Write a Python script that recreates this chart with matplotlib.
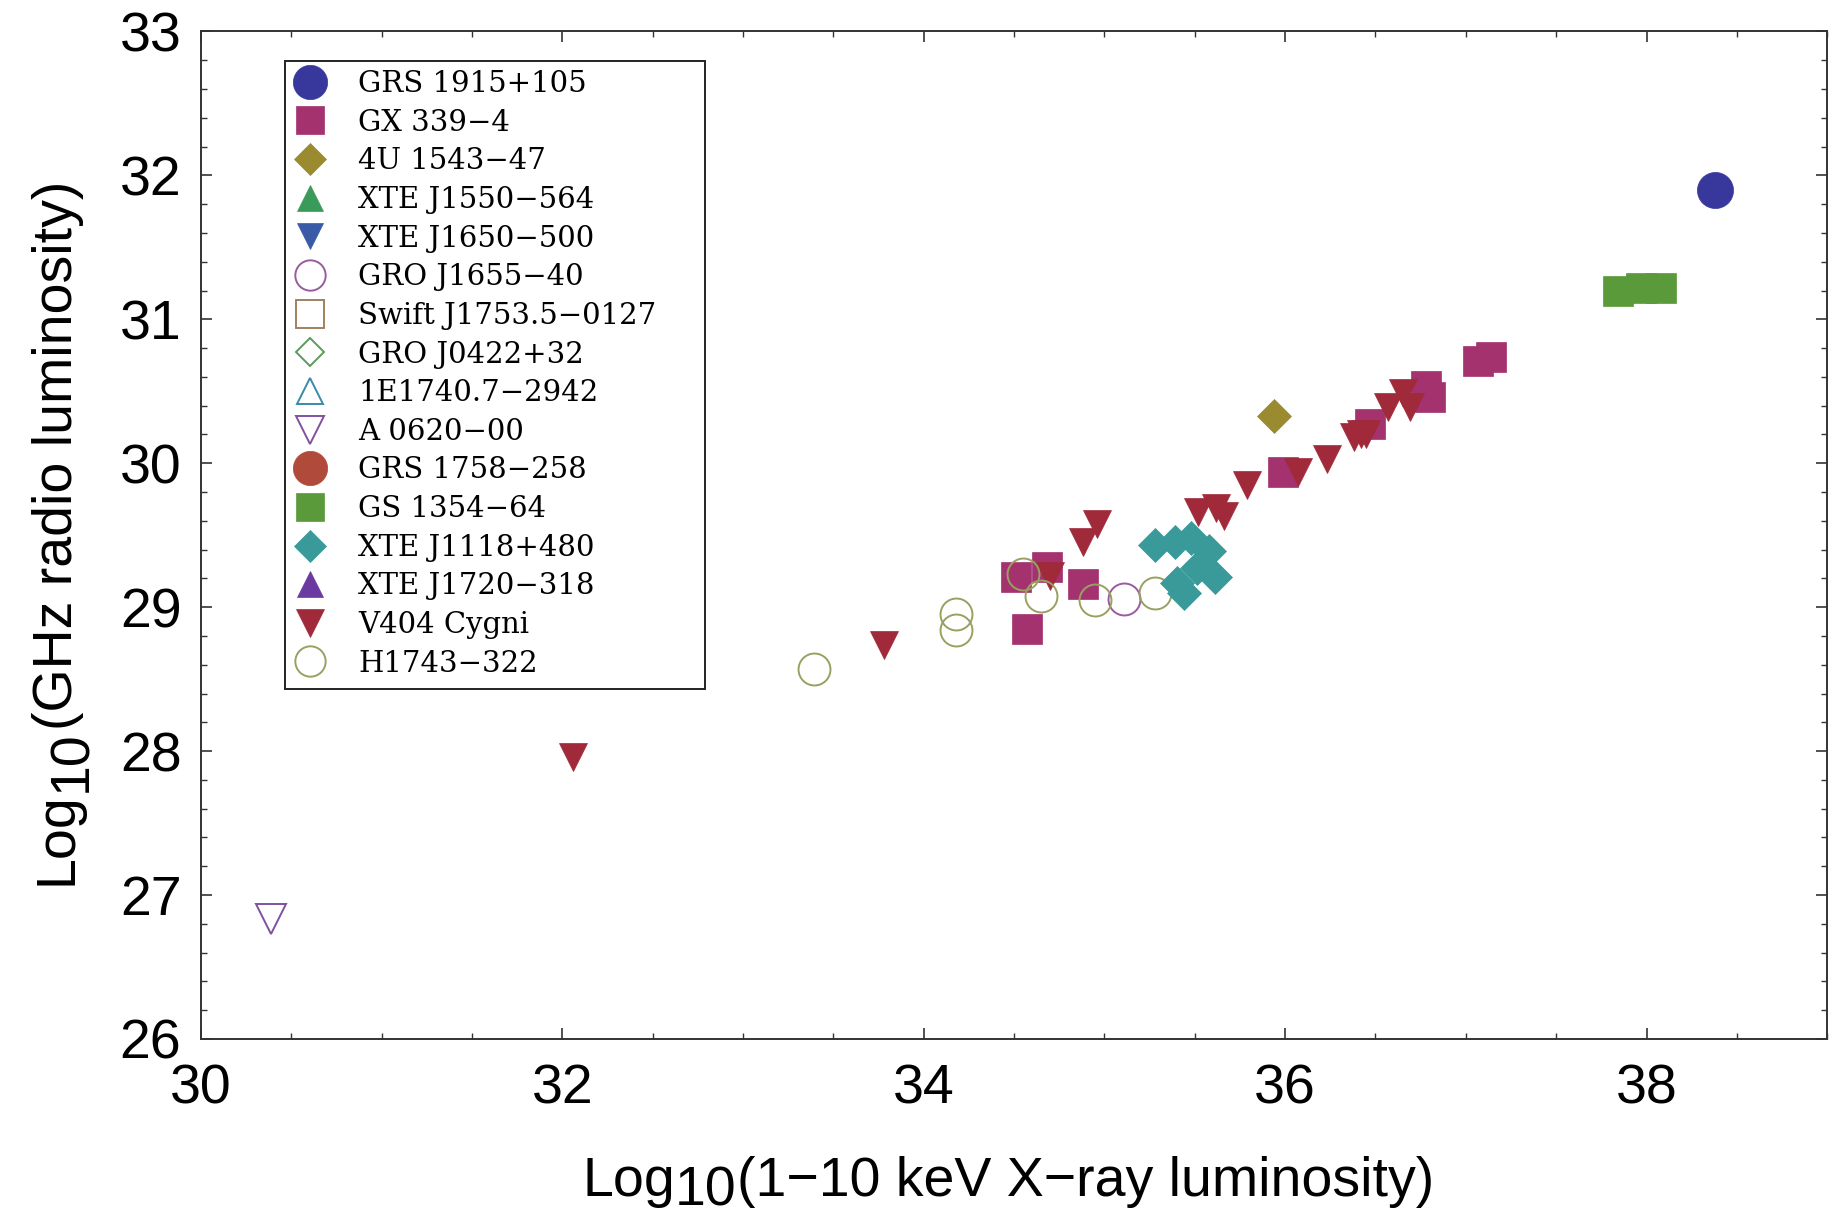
import matplotlib
matplotlib.use("Agg")
import matplotlib.pyplot as plt
from matplotlib.ticker import MultipleLocator
from matplotlib.patches import Rectangle
from matplotlib.transforms import IdentityTransform

# ---------------- data ----------------
grs1915_x = [38.38]
grs1915_y = [31.90]

gx339_x = [34.51, 34.68, 34.88, 34.57, 35.99, 36.47, 36.78, 36.80, 37.07, 37.14]
gx339_y = [29.21, 29.28, 29.16, 28.85, 29.94, 30.27, 30.54, 30.46, 30.71, 30.74]

u1543_x = [35.94]
u1543_y = [30.33]

j1550_x, j1550_y = [], []
j1650_x, j1650_y = [], []

j1655_x = [35.11]
j1655_y = [29.06]

swift_x, swift_y = [], []
j0422_x, j0422_y = [], []
e1740_x, e1740_y = [], []

a0620_x = [30.39]
a0620_y = [26.83]

grs1758_x, grs1758_y = [], []

gs1354_x = [37.84, 37.97, 38.08]
gs1354_y = [31.20, 31.22, 31.22]

j1118_x = [35.28, 35.39, 35.48, 35.58, 35.51, 35.40, 35.61, 35.44]
j1118_y = [29.43, 29.45, 29.48, 29.39, 29.27, 29.17, 29.21, 29.10]

j1720_x, j1720_y = [], []

v404_x = [32.06, 33.78, 34.70, 34.88, 34.96, 35.52, 35.62, 35.66, 35.79, 36.07,
          36.23, 36.38, 36.45, 36.42, 36.57, 36.69, 36.65]
v404_y = [27.96, 28.74, 29.22, 29.45, 29.58, 29.66, 29.69, 29.63, 29.85, 29.94,
          30.03, 30.18, 30.20, 30.20, 30.39, 30.39, 30.49]

h1743_x = [33.39, 34.18, 34.18, 34.55, 34.65, 34.95, 35.28]
h1743_y = [28.57, 28.95, 28.84, 29.23, 29.08, 29.05, 29.10]

labels = ["GRS 1915+105", "GX 339\u22124", "4U 1543\u221247", "XTE J1550\u2212564",
          "XTE J1650\u2212500", "GRO J1655\u221240", "Swift J1753.5\u22120127",
          "GRO J0422+32", "1E1740.7\u22122942", "A 0620\u221200", "GRS 1758\u2212258",
          "GS 1354\u221264", "XTE J1118+480", "XTE J1720\u2212318", "V404 Cygni",
          "H1743\u2212322"]

x_ticks = [30, 32, 34, 36, 38]
y_ticks = [26, 27, 28, 29, 30, 31, 32, 33]

xlabel_parts = ["Log", "10", "(1\u221210 keV X\u2212ray luminosity)"]
ylabel_parts = ["Log", "10", "(GHz radio luminosity)"]

# ---------------- figure ----------------
W, H = 1830, 1219
fig = plt.figure(figsize=(W / 100, H / 100), dpi=100)
ax = fig.add_axes([0.1098, 0.1477, 0.8887, 0.8265])

series = [
    (grs1915_x, grs1915_y, 'o', 26, '#38389c', True),
    (gx339_x, gx339_y, 's', 21.5, '#a3326f', True),
    (u1543_x, u1543_y, 'D', 17.5, '#9a8a30', True),
    (j1550_x, j1550_y, '^', 20, '#3a9a5a', True),
    (j1650_x, j1650_y, 'v', 20, '#3a5aa8', True),
    (j1655_x, j1655_y, 'o', 23, '#9a5aa0', False),
    (swift_x, swift_y, 's', 21, '#a08060', False),
    (j0422_x, j0422_y, 'D', 15, '#5a9a5a', False),
    (e1740_x, e1740_y, '^', 20, '#3a8aaa', False),
    (a0620_x, a0620_y, 'v', 21, '#8050a0', False),
    (grs1758_x, grs1758_y, 'o', 26, '#b04a3a', True),
    (gs1354_x, gs1354_y, 's', 21.5, '#5a9a3a', True),
    (j1118_x, j1118_y, 'D', 17.5, '#3a9a9a', True),
    (j1720_x, j1720_y, '^', 20, '#6a3aa0', True),
    (v404_x, v404_y, 'v', 20.5, '#a02a3a', True),
    (h1743_x, h1743_y, 'o', 23, '#9aa060', False),
]

for (xs, ys, m, ms, c, filled), lab in zip(series, labels):
    z = 3.2 if lab == "XTE J1118+480" else 3
    if filled:
        ax.plot(xs, ys, linestyle='none', marker=m, markersize=ms,
                markerfacecolor=c, markeredgecolor=c, markeredgewidth=0.5,
                label=lab, zorder=z)
    else:
        ax.plot(xs, ys, linestyle='none', marker=m, markersize=ms,
                markerfacecolor='none', markeredgecolor=c, markeredgewidth=1.4,
                label=lab, zorder=z)

ax.set_xlim(30, 39)
ax.set_ylim(26, 33)
ax.set_xticks(x_ticks)
ax.set_yticks(y_ticks)
ax.xaxis.set_minor_locator(MultipleLocator(0.5))
ax.yaxis.set_minor_locator(MultipleLocator(0.2))

for lbl in ax.get_xticklabels() + ax.get_yticklabels():
    lbl.set_fontfamily('Liberation Sans')
    lbl.set_fontsize(40)

ax.tick_params(which='both', direction='in', top=True, right=True, color='#333333')
ax.tick_params(which='major', length=8, width=1.2)
ax.tick_params(which='minor', length=4.5, width=1.0)
ax.tick_params(axis='x', which='major', pad=18)
ax.tick_params(axis='y', which='major', pad=14)

for sp in ax.spines.values():
    sp.set_color('#333333')
    sp.set_linewidth(1.4)

# legend (frame drawn separately to match the reference box)
leg = ax.legend(loc='upper left', bbox_to_anchor=(0.0516, 0.971), borderaxespad=0,
                prop={'family': 'DejaVu Serif', 'size': 21},
                frameon=False, borderpad=0.32, labelspacing=0.365, handlelength=1.1,
                handletextpad=1.1, markerscale=0.95, numpoints=1)
ax.add_patch(Rectangle((0.0516, 0.3478), 0.310 - 0.0516, 0.971 - 0.3478,
                       transform=ax.transAxes, facecolor='white', edgecolor='#222222',
                       linewidth=1.4, zorder=4.5))
leg.set_zorder(5)

# axis labels with full-size lowered subscript
fig.canvas.draw()
renderer = fig.canvas.get_renderer()
lab_kw = dict(fontfamily='Liberation Sans', fontsize=40, color='black')


def widths(parts):
    out = []
    for p in parts:
        t = fig.text(0, 0, p, **lab_kw)
        out.append(t.get_window_extent(renderer).width)
        t.remove()
    return out


# x label: centred at x=1008 px, subscript lowered
wx = widths(xlabel_parts)
x0 = 1008 - sum(wx) / 2
base = 23
offs = [0, -10, 0]
pos = x0
for p, w, o in zip(xlabel_parts, wx, offs):
    fig.text(pos, base + o, p, transform=IdentityTransform(), ha='left',
             va='baseline', **lab_kw)
    pos += w

# y label: rotated, centred at y=686 px, subscript shifted right
wy = widths(ylabel_parts)
y0 = 686 - sum(wy) / 2
basex = 72
offs = [0, 14, 0]
pos = y0
for p, w, o in zip(ylabel_parts, wy, offs):
    fig.text(basex + o, pos, p, transform=IdentityTransform(), ha='left',
             va='baseline', rotation=90, rotation_mode='anchor', **lab_kw)
    pos += w

fig.savefig('out.png', dpi=100, facecolor='white')
